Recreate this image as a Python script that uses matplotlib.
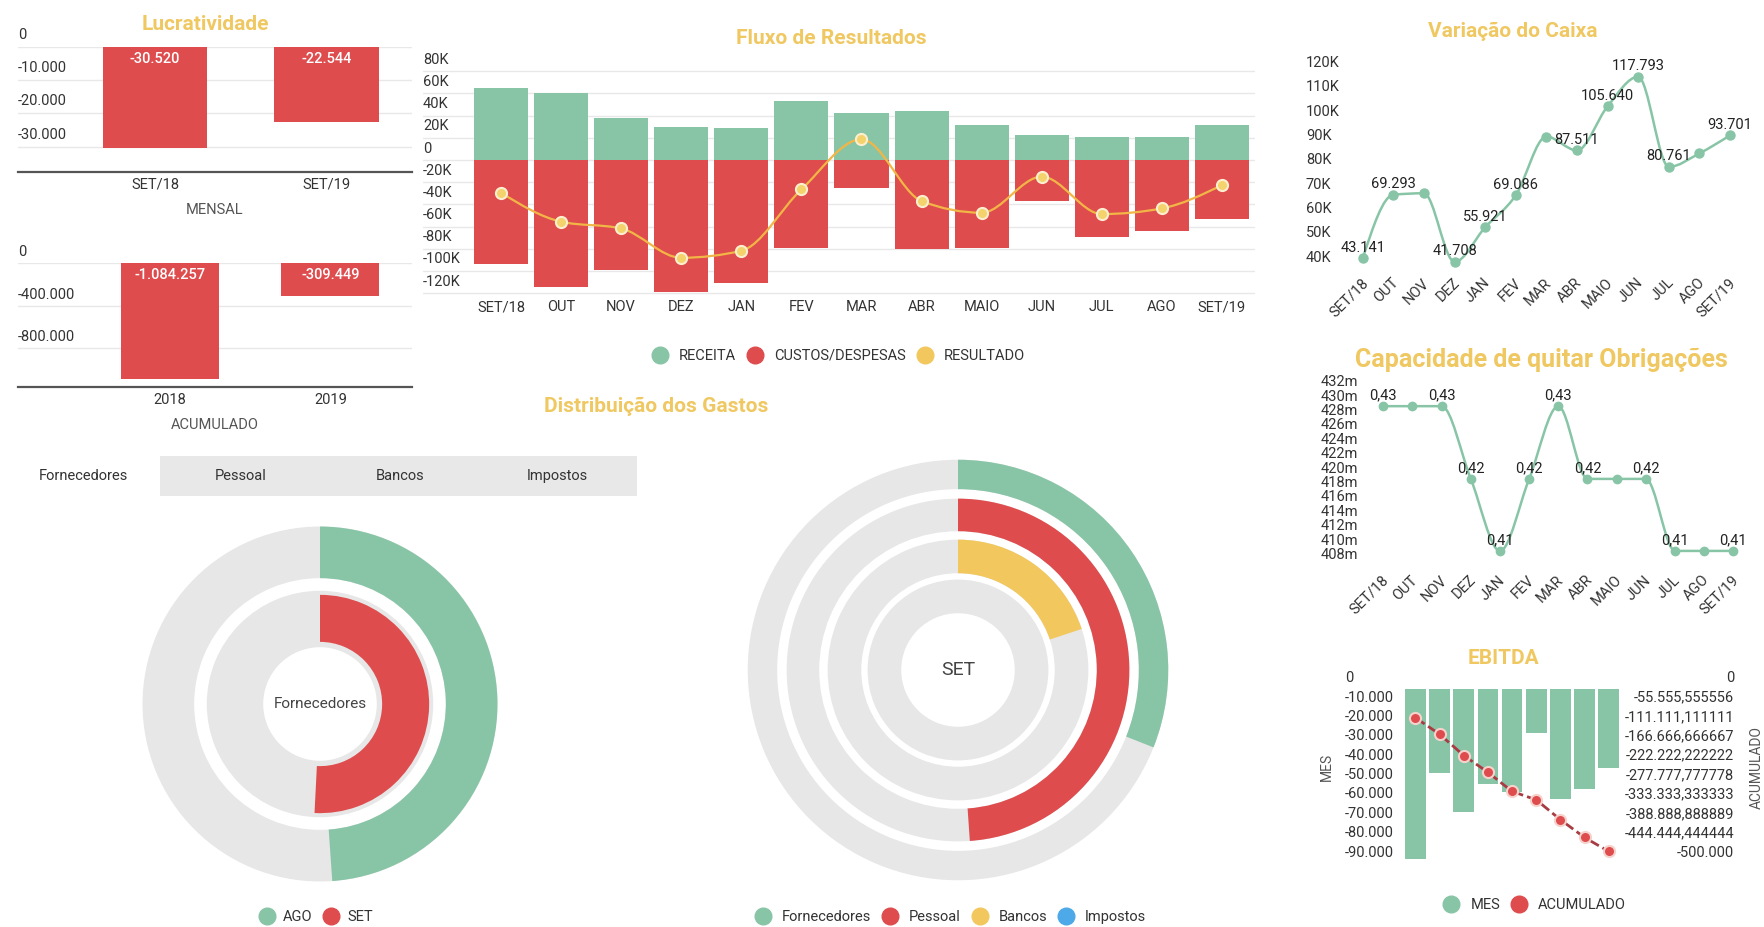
import numpy as np
import matplotlib
matplotlib.use('Agg')
import matplotlib.pyplot as plt
from matplotlib.path import Path
from matplotlib.patches import PathPatch, Rectangle
from matplotlib.lines import Line2D
import matplotlib.transforms as mtransforms

plt.rcParams['font.family'] = ['Roboto', 'DejaVu Sans']

# ---------------- DATA ----------------
lucro_mensal_cat = ['SET/18', 'SET/19']
lucro_mensal = [-30520, -22544]
lucro_acum_cat = ['2018', '2019']
lucro_acum = [-1084257, -309449]

meses = ['SET/18', 'OUT', 'NOV', 'DEZ', 'JAN', 'FEV', 'MAR', 'ABR', 'MAIO', 'JUN', 'JUL', 'AGO', 'SET/19']
receita = [64700, 60200, 37600, 29500, 28600, 53200, 42700, 44200, 31600, 22300, 21100, 20500, 31600]
custos = [-94100, -114300, -99200, -118800, -110400, -79100, -25000, -80600, -79100, -37000, -69800, -63800, -53500]
resultado = [-29500, -55600, -61700, -88100, -81800, -26500, 18600, -37000, -47500, -15000, -48700, -43600, -22600]

caixa = [43141, 69293, 69900, 41708, 55921, 69086, 93200, 87511, 105640, 117793, 80761, 86300, 93701]
caixa_label_idx = [0, 1, 3, 4, 5, 7, 8, 9, 10, 12]

capacidade = [0.4295, 0.4295, 0.4295, 0.4194, 0.4094, 0.4194, 0.4295, 0.4194, 0.4194, 0.4194, 0.4094, 0.4094, 0.4094]
capacidade_label_idx = [0, 2, 3, 4, 5, 6, 7, 9, 10, 12]

ebitda_meses = ['JAN', 'FEV', 'MAR', 'ABR', 'MAIO', 'JUN', 'JUL', 'AGO', 'SET']
ebitda_mes = [-87800, -43400, -63300, -48900, -53200, -22400, -56800, -51600, -40800]
ebitda_acum = [-81500, -129000, -190000, -238000, -293000, -317000, -374000, -425000, -465000]

tabs = ['Fornecedores', 'Pessoal', 'Bancos', 'Impostos']
fornec_meses = ['AGO', 'SET']
fornec_share = [0.489, 0.508]

gastos_cat = ['Fornecedores', 'Pessoal', 'Bancos', 'Impostos']
gastos_share = [0.31, 0.489, 0.199, 0.0]

# ---------------- STYLE ----------------
GREEN = '#88C5A6'
RED = '#DE4C4E'
YELLOW = '#F2C85E'
BLUE = '#4DA9E8'
RING = '#E7E7E7'
TITLE = '#F0C862'
TXT = '#333333'
GRID = '#E8E8E8'

W, H = 1765, 927
fig = plt.figure(figsize=(W / 100, H / 100), dpi=100)
fig.patch.set_facecolor('white')


def add_ax(x0, y0, x1, y1):
    return fig.add_axes([x0 / W, 1 - y1 / H, (x1 - x0) / W, (y1 - y0) / H])


def fxy(x, y):
    return (x / W, 1 - y / H)


def br(v, dec=0):
    s = f"{v:,.{dec}f}"
    return s.replace(',', '#').replace('.', ',').replace('#', '.')


def ylab(ax, vals, texts, side='left', off_px=10, fs=10.5, color=TXT):
    tr = ax.get_yaxis_transform()
    x = 0 if side == 'left' else 1
    for v, t in zip(vals, texts):
        ax.annotate(t, xy=(x, v), xycoords=tr, xytext=(0, off_px * 0.72),
                    textcoords='offset points', ha=side, va='center',
                    fontsize=fs, color=color, annotation_clip=False)


def monotone_path(x, y):
    x = np.asarray(x, float)
    y = np.asarray(y, float)
    n = len(x)
    h = np.diff(x)
    s = np.diff(y) / h
    m = np.zeros(n)
    for i in range(1, n - 1):
        s0, s1 = s[i - 1], s[i]
        p = (s0 * h[i] + s1 * h[i - 1]) / (h[i - 1] + h[i])
        m[i] = (np.sign(s0) + np.sign(s1)) * min(abs(s0), abs(s1), 0.5 * abs(p))
    m[0] = (3 * s[0] - m[1]) / 2
    m[-1] = (3 * s[-1] - m[-2]) / 2
    verts = [(x[0], y[0])]
    codes = [Path.MOVETO]
    for i in range(n - 1):
        d = h[i] / 3
        verts += [(x[i] + d, y[i] + m[i] * d), (x[i + 1] - d, y[i + 1] - m[i + 1] * d), (x[i + 1], y[i + 1])]
        codes += [Path.CURVE4] * 3
    return Path(verts, codes)


def clean(ax):
    for sp in ax.spines.values():
        sp.set_visible(False)
    ax.tick_params(length=0)


def title(x, y, t, fs=15):
    fig.text(*fxy(x, y), t, ha='center', va='center', fontsize=fs, fontweight='bold', color=TITLE)


# ---------------- LUCRATIVIDADE ----------------
title(205, 24, 'Lucratividade')

ax = add_ax(18, 46.7, 412, 172)
clean(ax)
xm = np.arange(len(lucro_mensal))
ax.bar(xm, lucro_mensal, width=0.61, color=RED, zorder=2)
ax.set_xlim(-0.80, 1.50)
ax.set_ylim(-37600, 0)
yt = [0, -10000, -20000, -30000]
ax.set_yticks(yt)
ax.grid(axis='y', color=GRID, lw=1, zorder=0)
ax.tick_params(axis='y', labelleft=False)
ax.spines['bottom'].set_visible(True)
ax.spines['bottom'].set_color('#555555')
ax.spines['bottom'].set_linewidth(1.6)
ax.set_xticks(xm)
ax.set_xticklabels(lucro_mensal_cat, fontsize=10.5, color=TXT)
ax.tick_params(axis='x', pad=4)
ax.set_xlabel('MENSAL', fontsize=10.5, color='#555555', labelpad=8)
ylab(ax, yt, [br(v) for v in yt], off_px=12)
for i, v in enumerate(lucro_mensal):
    ax.annotate(br(v), xy=(i, 0), xytext=(0, -12 * 0.72), textcoords='offset points',
                ha='center', va='center', color='white', fontsize=10.5, fontweight='medium')

ax = add_ax(18, 263.3, 412, 387.3)
clean(ax)
xa = np.arange(len(lucro_acum))
ax.bar(xa, lucro_acum, width=0.61, color=RED, zorder=2)
ax.set_xlim(-0.95, 1.51)
ax.set_ylim(-1167000, 0)
yt = [0, -400000, -800000]
ax.set_yticks(yt)
ax.grid(axis='y', color=GRID, lw=1, zorder=0)
ax.tick_params(axis='y', labelleft=False)
ax.spines['bottom'].set_visible(True)
ax.spines['bottom'].set_color('#555555')
ax.spines['bottom'].set_linewidth(1.6)
ax.set_xticks(xa)
ax.set_xticklabels(lucro_acum_cat, fontsize=10.5, color=TXT)
ax.tick_params(axis='x', pad=4)
ax.set_xlabel('ACUMULADO', fontsize=10.5, color='#555555', labelpad=8)
ylab(ax, yt, [br(v) for v in yt], off_px=11)
for i, v in enumerate(lucro_acum):
    ax.annotate(br(v), xy=(i, 0), xytext=(0, -12 * 0.72), textcoords='offset points',
                ha='center', va='center', color='white', fontsize=10.5, fontweight='medium')

# ---------------- FLUXO DE RESULTADOS ----------------
title(831, 38, 'Fluxo de Resultados')
ax = add_ax(423, 69, 1255, 295.4)
clean(ax)
xf = np.arange(len(meses))
ax.bar(xf, receita, width=0.9, color=GREEN, zorder=2)
ax.bar(xf, custos, width=0.9, color=RED, zorder=2)
ax.add_patch(PathPatch(monotone_path(xf, resultado), fill=False, edgecolor='#F2B646', lw=1.6, zorder=3))
ax.plot(xf, resultado, ls='none', marker='o', ms=8, mfc='#F4D36C', mec='#FBEFD0', mew=1.5, zorder=4)
ax.set_xlim(-1.298, 12.55)
ax.set_ylim(-122000, 82000)
yt = list(range(80000, -120001, -20000))
ax.set_yticks(yt)
ax.grid(axis='y', color=GRID, lw=1, zorder=0)
ax.tick_params(axis='y', labelleft=False)
ax.set_xticks(xf)
ax.set_xticklabels(meses, fontsize=10.5, color=TXT)
ax.tick_params(axis='x', pad=3.5)
ylab(ax, yt, [('0' if v == 0 else f"{v // 1000}K") for v in yt], off_px=11.5)

h_fl = [Line2D([], [], ls='none', marker='o', ms=12, color=c) for c in (GREEN, RED, YELLOW)]
fig.legend(h_fl, ['RECEITA', 'CUSTOS/DESPESAS', 'RESULTADO'], loc='center', bbox_to_anchor=fxy(839, 356),
           ncol=3, frameon=False, fontsize=10.5, handlelength=1, handletextpad=0.8, columnspacing=0.8,
           labelcolor=TXT)

# ---------------- VARIACAO DO CAIXA ----------------
title(1513, 31, 'Variação do Caixa')
ax = add_ax(1306, 66.5, 1745, 270.9)
clean(ax)
ax.add_patch(PathPatch(monotone_path(xf, caixa), fill=False, edgecolor=GREEN, lw=1.8, zorder=2))
ax.plot(xf, caixa, ls='none', marker='o', ms=6.5, color=GREEN, zorder=3)
ax.set_xlim(-1.853, 12.49)
ax.set_ylim(38000, 122000)
ax.set_yticks([])
yt = list(range(120000, 39999, -10000))
ylab(ax, yt, [f"{v // 1000}K" for v in yt], off_px=8.5, fs=10.5)
for i in caixa_label_idx:
    ax.annotate(br(caixa[i]), xy=(i, caixa[i]), xytext=(0, 10.5 * 0.72), textcoords='offset points',
                ha='center', va='center', fontsize=10.5, color='#222222')
ax.set_xticks(xf)
ax.set_xticklabels(meses, rotation=45, ha='right', va='center', rotation_mode='anchor', fontsize=10.5, color=TXT)
ax.tick_params(axis='x', pad=7)
off = mtransforms.ScaledTranslation(3 / 100, 0, fig.dpi_scale_trans)
for lab in ax.get_xticklabels():
    lab.set_transform(lab.get_transform() + off)

# ---------------- CAPACIDADE ----------------
title(1541, 360, 'Capacidade de quitar Obrigações', fs=18)
ax = add_ax(1321, 385, 1752, 564.6)
clean(ax)
ax.add_patch(PathPatch(monotone_path(xf, capacidade), fill=False, edgecolor=GREEN, lw=1.8, zorder=2))
ax.plot(xf, capacidade, ls='none', marker='o', ms=6, color=GREEN, zorder=3)
ax.set_xlim(-2.136, 12.64)
ax.set_ylim(0.4075, 0.43244)
ax.set_yticks([])
yt = [0.408 + 0.002 * k for k in range(13)]
ylab(ax, yt, [f"{round(v * 1000)}m" for v in yt], off_px=6, fs=10.5)
for i in capacidade_label_idx:
    ax.annotate(f"{capacidade[i]:.2f}".replace('.', ','), xy=(i, capacidade[i]), xytext=(0, 11 * 0.72),
                textcoords='offset points', ha='center', va='center', fontsize=10.5, color='#222222')
ax.set_xticks(xf)
ax.set_xticklabels(meses, rotation=45, ha='right', va='center', rotation_mode='anchor', fontsize=10.5, color=TXT)
ax.tick_params(axis='x', pad=9.5)
for lab in ax.get_xticklabels():
    lab.set_transform(lab.get_transform() + off)

# ---------------- EBITDA ----------------
title(1503, 658, 'EBITDA')
ax = add_ax(1345, 689.3, 1734, 866.5)
clean(ax)
xe = np.arange(len(ebitda_mes))
ax.bar(xe, ebitda_mes, width=0.857, color=GREEN, zorder=2)
ax.set_xlim(-2.919, 13.19)
ax.set_ylim(-91500, 0)
ax.set_xticks([])
ax.set_yticks([])
yt = [-10000 * k for k in range(10)]
ylab(ax, yt, [br(v) for v in yt], off_px=11, fs=10.5)
ax2 = ax.twinx()
clean(ax2)
ax2.set_ylim(-91500 / 90000 * 500000, 0)
ax2.set_yticks([])
ax2.plot(xe, ebitda_acum, color='#A83C42', ls=(0, (4, 1.5)), lw=2, marker='o', ms=8,
         mfc=RED, mec='#F6D2CC', mew=1.5, zorder=3)
yt2 = [-500000 * k / 9 for k in range(10)]
txt2 = []
for v in yt2:
    if abs(v - round(v)) < 1e-6:
        txt2.append(br(round(v)))
    else:
        txt2.append(br(v, 6))
ylab(ax2, yt2, txt2, side='right', off_px=11, fs=10.5)
fig.text(*fxy(1327, 767), 'MES', rotation=90, ha='center', va='center', fontsize=10, color='#555555')
fig.text(*fxy(1757, 768), 'ACUMULADO', rotation=90, ha='center', va='center', fontsize=10, color='#555555')
h_eb = [Line2D([], [], ls='none', marker='o', ms=12, color=c) for c in (GREEN, RED)]
fig.legend(h_eb, ['MES', 'ACUMULADO'], loc='center', bbox_to_anchor=fxy(1535, 905),
           ncol=2, frameon=False, fontsize=10.5, handlelength=1, handletextpad=0.8, columnspacing=0.8,
           labelcolor=TXT)

# ---------------- DISTRIBUICAO DOS GASTOS ----------------
title(656, 406, 'Distribuição dos Gastos')

# tabs
axt = add_ax(9, 456, 637, 496)
axt.set_xlim(0, 628)
axt.set_ylim(0, 40)
axt.axis('off')
axt.add_patch(Rectangle((0, 0), 628, 40, color='#E8E8E8', lw=0))
axt.add_patch(Rectangle((0, 0), 151, 40, color='white', lw=0))
for cx, t in zip([74, 232, 391, 548], tabs):
    axt.text(cx, 20, t, ha='center', va='center', fontsize=10.5, color=TXT)

# left donut
axd = add_ax(140, 524, 500, 884)
R = 0.986
axd.pie([1], radius=R, colors=[RING], wedgeprops=dict(width=R * 0.291, lw=0))
axd.pie([fornec_share[0], 1 - fornec_share[0]], radius=R, colors=[GREEN, 'none'], startangle=90,
        counterclock=False, wedgeprops=dict(width=R * 0.291, lw=0))
axd.pie([1], radius=R * 0.638, colors=[RING], wedgeprops=dict(width=R * 0.318, lw=0))
axd.pie([fornec_share[1], 1 - fornec_share[1]], radius=R * 0.615, colors=[RED, 'none'], startangle=90,
        counterclock=False, wedgeprops=dict(width=R * 0.265, lw=0))
axd.set_xlim(-1, 1)
axd.set_ylim(-1, 1)
axd.set_aspect('equal')
axd.text(0, 0, 'Fornecedores', ha='center', va='center', fontsize=11, color='#444444')
h_d1 = [Line2D([], [], ls='none', marker='o', ms=12, color=c) for c in (GREEN, RED)]
fig.legend(h_d1, fornec_meses, loc='center', bbox_to_anchor=fxy(316, 917),
           ncol=2, frameon=False, fontsize=10.5, handlelength=1, handletextpad=0.6, columnspacing=0.8,
           labelcolor=TXT)

# right donut
axr = add_ax(958 - 215, 670 - 215, 958 + 215, 670 + 215)
R2 = 0.978
rings = [(1.0, 0.86), (0.815, 0.66), (0.62, 0.46), (0.43, 0.27)]
cols = [GREEN, RED, YELLOW, BLUE]
for (ro, ri), sh, c in zip(rings, gastos_share, cols):
    axr.pie([1], radius=R2 * ro, colors=[RING], wedgeprops=dict(width=R2 * (ro - ri), lw=0))
    axr.pie([sh, 1 - sh], radius=R2 * ro, colors=[c, 'none'], startangle=90, counterclock=False,
            wedgeprops=dict(width=R2 * (ro - ri), lw=0))
axr.set_xlim(-1, 1)
axr.set_ylim(-1, 1)
axr.set_aspect('equal')
axr.text(0, 0, 'SET', ha='center', va='center', fontsize=14, color='#444444')
h_d2 = [Line2D([], [], ls='none', marker='o', ms=12, color=c) for c in cols]
fig.legend(h_d2, gastos_cat, loc='center', bbox_to_anchor=fxy(951, 917),
           ncol=4, frameon=False, fontsize=10.5, handlelength=1, handletextpad=0.8, columnspacing=0.8,
           labelcolor=TXT)

fig.savefig('out.png', dpi=100, facecolor='white')
